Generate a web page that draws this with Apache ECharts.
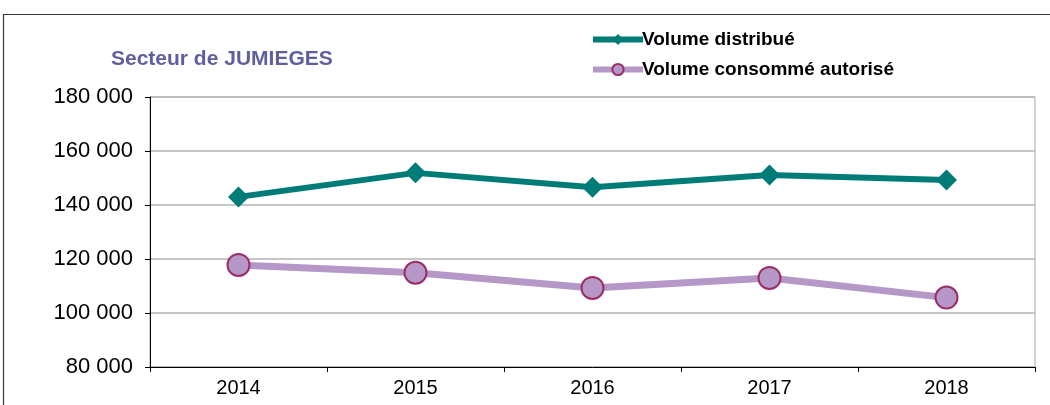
<!DOCTYPE html>
<html>
<head>
<meta charset="utf-8">
<script src="https://cdn.jsdelivr.net/npm/echarts@6/dist/echarts.min.js"></script>
<style>
  html, body { margin: 0; padding: 0; background: #fff; }
  #chart { width: 1050px; height: 405px; }
</style>
</head>
<body>
<div id="chart"></div>
<script>
  // données
  var years = ['2014', '2015', '2016', '2017', '2018'];
  var volumeDistribue = [143000, 151900, 146600, 151100, 149300];
  var volumeConsomme = [117800, 114900, 109300, 113000, 105700];
  var yTicks = [80000, 100000, 120000, 140000, 160000, 180000];

  var chart = echarts.init(document.getElementById('chart'));
  chart.setOption({
    animation: false,
    textStyle: { fontFamily: 'Liberation Sans, Arial, sans-serif' },
    title: {
      text: 'Secteur de JUMIEGES',
      left: 106,
      top: 44,
      textStyle: { color: '#5F5F9E', fontSize: 21, fontWeight: 'bold' }
    },
    legend: {
      orient: 'vertical',
      left: 585,
      top: 25,
      itemWidth: 50,
      itemHeight: 14,
      itemGap: 11,
      lineStyle: { width: 6 },
      textStyle: { color: '#000', fontSize: 19, fontWeight: 'bold', padding: [0, 0, 0, -6] },
      data: ['Volume distribué', 'Volume consommé autorisé']
    },
    graphic: [{
      type: 'rect',
      shape: { x: 3.5, y: 14.5, width: 1100, height: 500 },
      style: { fill: 'none', stroke: '#3A3A3A', lineWidth: 1.2 },
      silent: true
    }],
    grid: {
      left: 150,
      right: 15,
      top: 97,
      bottom: 38,
      show: true,
      borderColor: '#A6A6A6',
      borderWidth: 1
    },
    xAxis: {
      type: 'category',
      data: years,
      boundaryGap: true,
      axisLine: { lineStyle: { color: '#000', width: 1 } },
      axisTick: { show: true, length: 5, lineStyle: { color: '#000' } },
      axisLabel: { color: '#000', fontSize: 20, margin: 11 }
    },
    yAxis: {
      type: 'value',
      min: yTicks[0],
      max: yTicks[yTicks.length - 1],
      interval: 20000,
      axisLine: { show: true, lineStyle: { color: '#000', width: 1 } },
      axisTick: { show: true, length: 5, lineStyle: { color: '#000' } },
      splitLine: { lineStyle: { color: '#B3B3B3', width: 1.5 } },
      axisLabel: {
        color: '#000',
        fontSize: 22,
        margin: 17,
        formatter: function (v) {
          return String(v).replace(/\B(?=(\d{3})+(?!\d))/g, ' ');
        }
      }
    },
    series: [
      {
        name: 'Volume distribué',
        type: 'line',
        data: volumeDistribue,
        symbol: 'diamond',
        symbolSize: 21,
        lineStyle: { color: '#007C78', width: 6 },
        itemStyle: { color: '#007C78' },
        z: 3
      },
      {
        name: 'Volume consommé autorisé',
        type: 'line',
        data: volumeConsomme,
        symbol: 'circle',
        symbolSize: 22,
        lineStyle: { color: '#B597C8', width: 7 },
        itemStyle: { color: '#B597C8', borderColor: '#9C2D66', borderWidth: 2 },
        z: 2
      }
    ]
  });
</script>
</body>
</html>
